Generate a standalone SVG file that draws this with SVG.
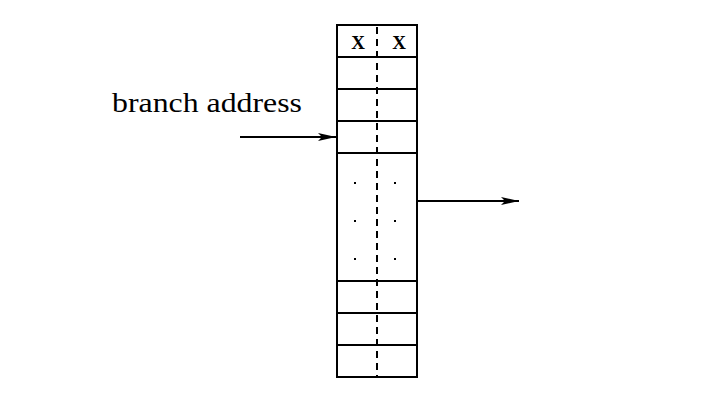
<svg xmlns="http://www.w3.org/2000/svg" width="714" height="416" viewBox="0 0 714 416">
<style>
.ln{stroke:#000;stroke-width:2;fill:none}
.dash{stroke:#000;stroke-width:2;stroke-dasharray:7 5;fill:none}
.t{font-family:"Liberation Serif",serif;fill:#000}
</style>
<defs>
<marker id="ah" viewBox="0 0 18 10" refX="18" refY="5" markerWidth="18" markerHeight="10" markerUnits="userSpaceOnUse" orient="auto">
<path d="M0,1 L18,5 L0,9 L4,5 Z" fill="#000"/>
</marker>
</defs>
<rect width="714" height="416" fill="#fff"/>
<g id="table">
<rect class="ln" x="337" y="25" width="80" height="352"/>
<path class="ln" d="M337,57H417M337,89H417M337,121H417M337,153H417M337,281H417M337,313H417M337,345H417"/>
<path class="dash" d="M377,27V377"/>
<text class="t" x="358" y="49" font-size="19" font-weight="bold" text-anchor="middle">X</text>
<text class="t" x="399" y="49" font-size="19" font-weight="bold" text-anchor="middle">X</text>
<g fill="#000">
<rect x="354" y="182" width="2" height="2"/><rect x="394" y="182" width="2" height="2"/>
<rect x="354" y="220" width="2" height="2"/><rect x="394" y="220" width="2" height="2"/>
<rect x="354" y="258" width="2" height="2"/><rect x="394" y="258" width="2" height="2"/>
</g>
</g>
<g id="label">
<text class="t" x="112" y="112" font-size="28" textLength="190" lengthAdjust="spacingAndGlyphs">branch address</text>
</g>
<g id="connectors">
<path class="ln" d="M240,137H336" marker-end="url(#ah)"/>
<path class="ln" d="M417,201H519" marker-end="url(#ah)"/>
</g>
</svg>
